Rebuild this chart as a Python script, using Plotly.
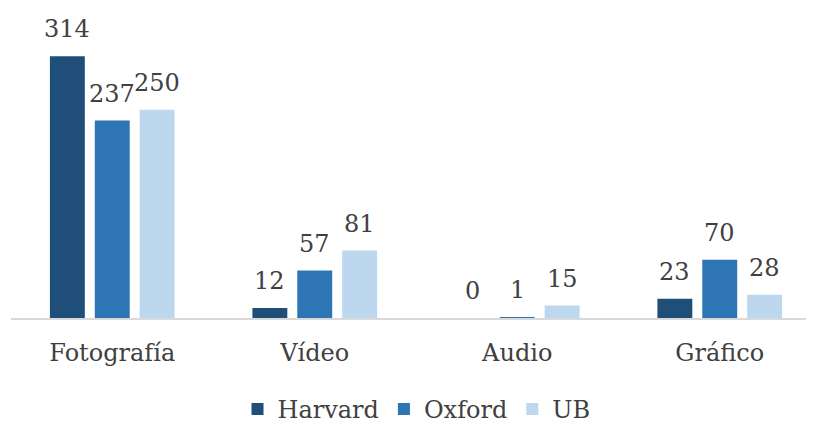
import plotly.graph_objects as go

categories = ["Fotografía", "Vídeo", "Audio", "Gráfico"]
series_names = ["Harvard", "Oxford", "UB"]
harvard = [314, 12, 0, 23]
oxford = [237, 57, 1, 70]
ub = [250, 81, 15, 28]
colors = ["#1F4E79", "#2E75B6", "#BDD7EE"]

FONT = "DejaVu Serif"
FS = 24
TXT = "#404040"

fig = go.Figure()
all_values = [harvard, oxford, ub]
for name, vals, col in zip(series_names, all_values, colors):
    fig.add_trace(go.Bar(
        name=name, x=categories, y=vals, marker=dict(color=col, line=dict(width=0)),
        hoverinfo="x+y+name",
    ))

# data labels
slot_px = 45
for i, vals in enumerate(all_values):
    for c, v in zip(categories, vals):
        fig.add_annotation(
            x=c, y=v, text=str(v), showarrow=False,
            xshift=(i - 1) * slot_px, yshift=11, yanchor="bottom",
            font=dict(family=FONT, size=FS, color=TXT),
        )

fig.update_layout(
    width=814, height=424,
    margin=dict(l=3, r=0, t=0, b=104),
    plot_bgcolor="white", paper_bgcolor="white",
    barmode="group", bargap=0.335, bargroupgap=0.222,
    font=dict(family=FONT, size=FS, color=TXT),
    showlegend=True,
    legend=dict(orientation="h", x=0.5, xanchor="center", y=-0.295, yanchor="middle",
                font=dict(family=FONT, size=FS, color=TXT), itemclick=False),
    xaxis=dict(range=[-0.5, 3.505], showline=True, linecolor="#D9D9D9", linewidth=2,
               ticks="", showgrid=False, zeroline=False, ticklabelstandoff=12,
               tickfont=dict(family=FONT, size=FS, color=TXT)),
    yaxis=dict(range=[0, 372], visible=False),
)

fig.write_html("out.html")
